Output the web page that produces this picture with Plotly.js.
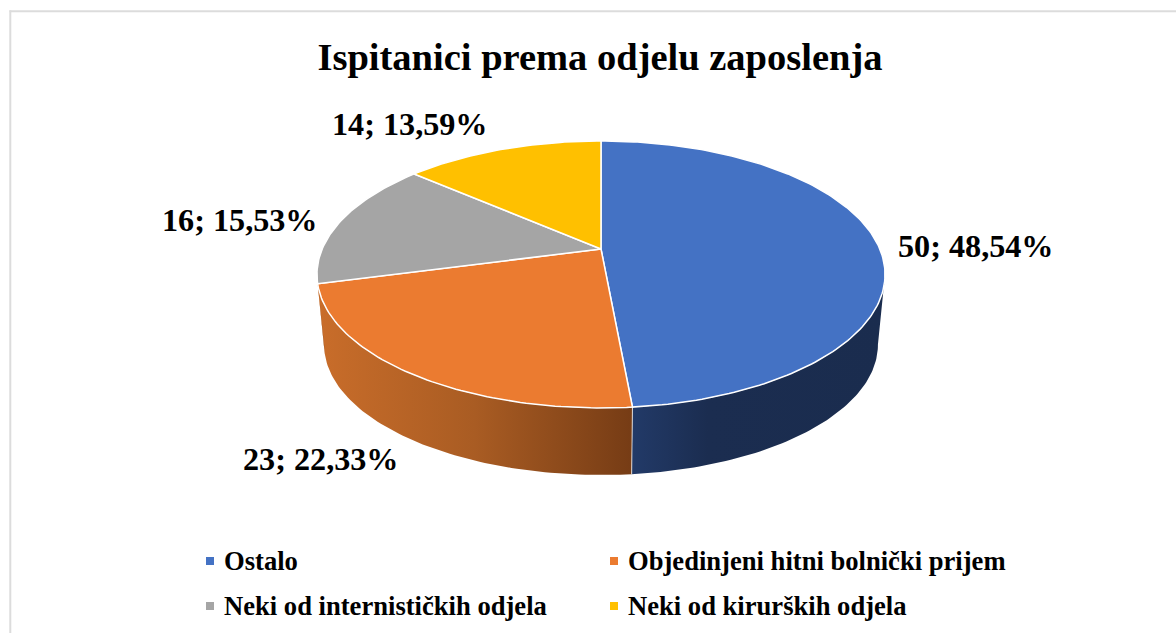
<!DOCTYPE html>
<html>
<head>
<meta charset="utf-8">
<script src="https://cdn.plot.ly/plotly-3.0.1.min.js"></script>
<style>html,body{margin:0;padding:0;background:#fff;overflow:hidden}#chart{width:1176px;height:633px}</style>
</head>
<body>
<div id="chart"></div>
<script>
const chartTitle = "Ispitanici prema odjelu zaposlenja";
const categories = ["Ostalo", "Objedinjeni hitni bolnički prijem", "Neki od internističkih odjela", "Neki od kirurških odjela"];
const counts = [50, 23, 16, 14];
const percentLabels = ["48,54%", "22,33%", "15,53%", "13,59%"];
const colors = ["#4472C4", "#EB7B30", "#A5A5A5", "#FFC000"];
const wallGradients = [
  [[0, "#223A68"], [0.3, "#1B2D50"], [1, "#1A2C4E"]],
  [[0, "#C96D2A"], [0.5, "#A95C23"], [1, "#763C15"]]
];
const labelPos = [[975.5, 245.5], [320.5, 459], [239.5, 220], [410, 124]];
const legendPos = [[210, 222, 561], [614, 626, 561], [210, 222, 606], [614, 626, 606]];

// perspective view of the pie
const view = {cx: 601, cy: 249, R: 278.8, k: 128.6, d: 5.24, baseCy: 320, baseScale: 0.975};
const serif = '"Liberation Serif", "Times New Roman", serif';

function rim(deg, base) {
  const t = deg * Math.PI / 180, u = Math.sin(t), v = -Math.cos(t);
  const f = view.d / (view.d - v), s = base ? view.baseScale : 1;
  return [view.cx + s * view.R * u * f, (base ? view.baseCy : view.cy) + s * view.k * v * f];
}
function arc(a, b, base) {
  const n = Math.max(2, Math.ceil(Math.abs(b - a))), pts = [];
  for (let i = 0; i <= n; i++) pts.push(rim(a + (b - a) * i / n, base));
  return pts;
}
const total = counts.reduce((p, c) => p + c, 0);
let acc = 0;
const spans = counts.map(c => { const s = [acc / total * 360, (acc + c) / total * 360]; acc += c; return s; });

const WALL_A = 101, WALL_B = 259;
const traces = [];
spans.forEach((s, i) => {
  const a = Math.max(s[0], WALL_A), b = Math.min(s[1], WALL_B);
  if (b <= a) return;
  const pts = arc(a, b, false).concat(arc(b, a, true));
  pts.push(pts[0]);
  traces.push({
    type: "scatter", mode: "lines", x: pts.map(p => p[0]), y: pts.map(p => p[1]),
    fill: "toself", line: {width: 0, color: "rgba(0,0,0,0)"},
    fillgradient: {type: "horizontal", colorscale: wallGradients[i === 0 ? 0 : 1]},
    hoverinfo: "skip", showlegend: false
  });
});
// divider between visible walls
{
  const p = rim(spans[0][1], false), q = rim(spans[0][1], true);
  traces.push({type: "scatter", mode: "lines", x: [p[0], q[0]], y: [p[1], q[1]],
    line: {color: "rgba(255,255,255,0.75)", width: 1}, hoverinfo: "skip", showlegend: false});
}
// top faces
spans.forEach((s, i) => {
  const pts = [[view.cx, view.cy]].concat(arc(s[0], s[1], false));
  pts.push(pts[0]);
  traces.push({
    type: "scatter", mode: "lines", name: categories[i],
    x: pts.map(p => p[0]), y: pts.map(p => p[1]),
    fill: "toself", fillcolor: colors[i], line: {color: "#FFFFFF", width: 1.5},
    text: counts[i] + "; " + percentLabels[i], hoverinfo: "name+text", showlegend: false
  });
});
// legend markers
categories.forEach((c, i) => {
  traces.push({type: "scatter", mode: "markers", x: [legendPos[i][0]], y: [legendPos[i][2]],
    marker: {symbol: "square", size: 8, color: colors[i]}, hoverinfo: "skip", showlegend: false});
});

const annotations = [];
counts.forEach((c, i) => {
  annotations.push({x: labelPos[i][0], y: labelPos[i][1], xref: "x", yref: "y", showarrow: false,
    text: "<b>" + c + "; " + percentLabels[i] + "</b>", font: {family: serif, size: 32.2, color: "#000"}});
});
categories.forEach((c, i) => {
  annotations.push({x: legendPos[i][1], y: legendPos[i][2], xref: "x", yref: "y", xanchor: "left", showarrow: false,
    text: "<b>" + c + "</b>", font: {family: serif, size: 26.6, color: "#000"}});
});

const layout = {
  width: 1176, height: 633, margin: {l: 0, r: 0, t: 0, b: 0},
  paper_bgcolor: "#fff", plot_bgcolor: "#fff", showlegend: false,
  title: {text: "<b>" + chartTitle + "</b>", font: {family: serif, size: 38.5, color: "#000"},
    x: 600 / 1176, xanchor: "center", y: 1 - 57 / 633, yanchor: "middle"},
  xaxis: {range: [0, 1176], visible: false, fixedrange: true},
  yaxis: {range: [633, 0], visible: false, fixedrange: true},
  shapes: [
    {type: "line", xref: "x", yref: "y", x0: 9.5, x1: 1176, y0: 11.3, y1: 11.3, line: {color: "#DCDCDC", width: 2}},
    {type: "line", xref: "x", yref: "y", x0: 10.3, x1: 10.3, y0: 10.3, y1: 633, line: {color: "#DCDCDC", width: 2}}
  ],
  annotations: annotations
};
Plotly.newPlot("chart", traces, layout, {displayModeBar: false, responsive: false});
</script>
</body>
</html>
